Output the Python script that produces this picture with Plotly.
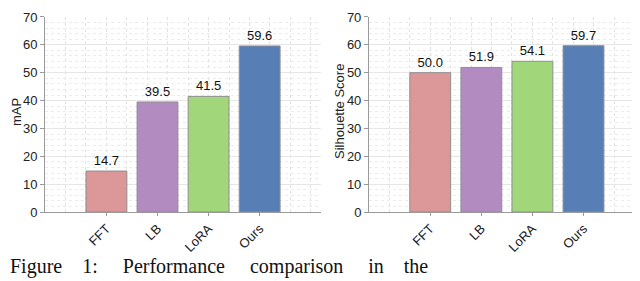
import plotly.graph_objects as go

methods = ["FFT", "LB", "LoRA", "Ours"]
map_values = [14.7, 39.5, 41.5, 59.6]
silhouette_values = [50.0, 51.9, 54.1, 59.7]
y_ticks = [0, 10, 20, 30, 40, 50, 60, 70]
bar_colors = ["#dc9898", "#b28cc0", "#a1d67b", "#587eb6"]
y_titles = ["mAP", "Silhouette Score"]
NB = "\u00a0"
caption = ("Figure" + NB * 4 + "1:" + NB * 5 + "Performance" + NB * 5 +
           "comparison" + NB * 5 + "in" + NB * 4 + "the")

FONT = "Liberation Sans, Arial, Helvetica, sans-serif"
pos = list(range(len(methods)))

fig = go.Figure()
for vals, xa, ya in [(map_values, "x", "y"), (silhouette_values, "x2", "y2")]:
    fig.add_trace(go.Bar(
        x=pos, y=vals, xaxis=xa, yaxis=ya,
        marker=dict(color=bar_colors, line=dict(color="#8f8f8f", width=1)),
        width=0.8,
        text=[f"{v:.1f}" for v in vals], textposition="outside",
        textfont=dict(family=FONT, size=13, color="#111111"),
        cliponaxis=False, showlegend=False,
    ))

def xaxis(domain, anchor):
    return dict(
        domain=domain, anchor=anchor, range=[-1.2, 4.2], automargin=False,
        tickmode="array", tickvals=pos, ticktext=methods, tickangle=-45,
        ticks="outside", ticklen=3, tickcolor="#999999",
        tickfont=dict(family=FONT, size=13, color="#222222"),
        showline=True, linecolor="#9a9a9a", linewidth=1,
        showgrid=False, zeroline=False,
        minor=dict(tickmode="linear", tick0=-1.2, dtick=0.4, showgrid=True,
                   gridcolor="#e2e2e2", griddash="dot", gridwidth=1, ticks=""),
    )

def yaxis(domain, anchor):
    return dict(
        domain=domain, anchor=anchor, range=[0, 70], automargin=False,
        tickmode="array", tickvals=y_ticks, ticklabeloverflow="allow",
        ticks="outside", ticklen=4, tickcolor="#999999",
        tickfont=dict(family=FONT, size=13, color="#222222"),
        showline=True, linecolor="#9a9a9a", linewidth=1,
        showgrid=True, gridcolor="#e6e6e6", gridwidth=1, zeroline=False,
        minor=dict(tickmode="linear", dtick=2, showgrid=True,
                   gridcolor="#ececec", griddash="dot", gridwidth=1, ticks=""),
    )

annotations = []
for title, xpx in zip(y_titles, [8, 331]):
    annotations.append(dict(
        text=title, xref="paper", yref="paper", x=xpx / 640, y=(281 - 104) / 281,
        xanchor="center", yanchor="middle", textangle=-90, showarrow=False,
        font=dict(family=FONT, size=13, color="#222222"),
    ))
annotations.append(dict(
    text=caption, xref="paper", yref="paper", x=0.0, y=9 / 281,
    xanchor="left", yanchor="bottom", showarrow=False,
    font=dict(family="Liberation Serif, Times New Roman, serif", size=20, color="#111111"),
))

fig.update_layout(
    width=640, height=281,
    margin=dict(l=0, r=0, t=0, b=0),
    paper_bgcolor="white", plot_bgcolor="white",
    bargap=0.2,
    xaxis=xaxis([0.058, 0.489], "y"),
    yaxis=yaxis([0.274, 0.968], "x"),
    xaxis2=xaxis([0.564, 0.995], "y2"),
    yaxis2=yaxis([0.274, 0.968], "x2"),
    annotations=annotations,
)

fig.write_html("out.html")
